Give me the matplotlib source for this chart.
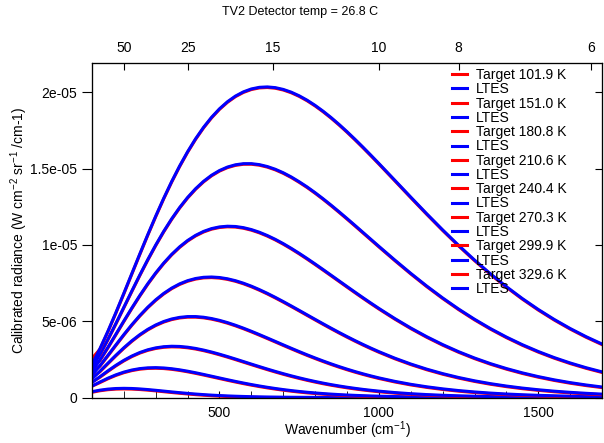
"""Calibrated radiance curves: target vs LTES."""
import matplotlib
matplotlib.use("Agg")
import matplotlib.pyplot as plt
from matplotlib.ticker import FixedLocator, FuncFormatter
from matplotlib.transforms import offset_copy

plt.rcParams["font.family"] = ["Liberation Sans", "DejaVu Sans"]
plt.rcParams["mathtext.fontset"] = "custom"
plt.rcParams["mathtext.rm"] = "Liberation Sans"
plt.rcParams["mathtext.default"] = "regular"

# wavenumber grid (cm-1)
wavenumber = [100, 125, 150, 175, 200, 225, 250, 275, 300, 325, 350, 375, 400, 425, 450, 475,
              500, 525, 550, 575, 600, 625, 650, 675, 700, 725, 750, 775, 800, 825, 850, 875,
              900, 925, 950, 975, 1000, 1050, 1100, 1150, 1200, 1250, 1300, 1350, 1400, 1450,
              1500, 1550, 1600, 1650, 1700]

temps = ["101.9", "151.0", "180.8", "210.6", "240.4", "270.3", "299.9", "329.6"]

# LTES radiance, units of 1e-6 W cm-2 sr-1 /cm-1
ltes_101_9 = [0.384, 0.481, 0.550, 0.589, 0.601, 0.591, 0.562, 0.521, 0.472, 0.420, 0.367, 0.317,
              0.270, 0.227, 0.189, 0.156, 0.128, 0.104, 0.084, 0.068, 0.054, 0.043, 0.034, 0.027,
              0.021, 0.016, 0.013, 0.010, 0.008, 0.006, 0.004, 0.003, 0.003, 0.002, 0.002, 0.001,
              0.001, 0.0, 0.0, 0.0, 0.0, 0.0, 0.0, 0.0, 0.0, 0.0, 0.0, 0.0, 0.0, 0.0, 0.0]
ltes_151_0 = [0.748, 1.016, 1.266, 1.485, 1.665, 1.801, 1.894, 1.944, 1.957, 1.936, 1.886, 1.814,
              1.724, 1.622, 1.512, 1.397, 1.281, 1.166, 1.055, 0.949, 0.849, 0.756, 0.670, 0.591,
              0.519, 0.454, 0.396, 0.344, 0.299, 0.258, 0.222, 0.191, 0.164, 0.140, 0.120, 0.102,
              0.087, 0.062, 0.045, 0.032, 0.022, 0.016, 0.011, 0.008, 0.005, 0.004, 0.002, 0.002,
              0.001, 0.001, 0.001]
ltes_180_8 = [0.979, 1.365, 1.748, 2.110, 2.436, 2.717, 2.949, 3.127, 3.253, 3.329, 3.359, 3.346,
              3.297, 3.216, 3.109, 2.981, 2.838, 2.684, 2.522, 2.356, 2.190, 2.026, 1.865, 1.710,
              1.562, 1.421, 1.289, 1.165, 1.050, 0.943, 0.845, 0.756, 0.674, 0.600, 0.532, 0.472,
              0.417, 0.324, 0.250, 0.192, 0.147, 0.111, 0.084, 0.063, 0.047, 0.035, 0.026, 0.020,
              0.014, 0.011, 0.008]
ltes_210_6 = [1.215, 1.725, 2.250, 2.769, 3.262, 3.716, 4.119, 4.467, 4.754, 4.980, 5.145, 5.251,
              5.303, 5.304, 5.260, 5.175, 5.056, 4.908, 4.736, 4.545, 4.340, 4.124, 3.902, 3.677,
              3.451, 3.228, 3.009, 2.796, 2.591, 2.394, 2.206, 2.027, 1.859, 1.701, 1.553, 1.415,
              1.286, 1.058, 0.864, 0.702, 0.567, 0.455, 0.364, 0.289, 0.229, 0.181, 0.143, 0.112,
              0.087, 0.068, 0.053]
ltes_240_4 = [1.454, 2.090, 2.765, 3.450, 4.125, 4.770, 5.371, 5.918, 6.403, 6.821, 7.169, 7.447,
              7.656, 7.798, 7.877, 7.897, 7.863, 7.780, 7.655, 7.491, 7.295, 7.071, 6.826, 6.563,
              6.287, 6.001, 5.710, 5.416, 5.122, 4.831, 4.545, 4.265, 3.994, 3.731, 3.478, 3.236,
              3.005, 2.577, 2.196, 1.859, 1.566, 1.312, 1.094, 0.908, 0.751, 0.618, 0.508, 0.415,
              0.339, 0.275, 0.223]
ltes_270_3 = [1.695, 2.461, 3.289, 4.149, 5.016, 5.867, 6.685, 7.456, 8.167, 8.811, 9.382, 9.875,
              10.290, 10.626, 10.884, 11.068, 11.179, 11.224, 11.207, 11.131, 11.004, 10.830, 10.615, 10.365,
              10.084, 9.777, 9.450, 9.106, 8.750, 8.386, 8.016, 7.645, 7.274, 6.906, 6.543, 6.187,
              5.839, 5.174, 4.555, 3.986, 3.469, 3.003, 2.588, 2.220, 1.898, 1.615, 1.370, 1.158,
              0.976, 0.821, 0.688]
ltes_299_9 = [1.935, 2.832, 3.815, 4.853, 5.917, 6.982, 8.028, 9.037, 9.995, 10.889, 11.710, 12.452,
              13.111, 13.682, 14.166, 14.563, 14.874, 15.102, 15.250, 15.323, 15.325, 15.261, 15.136, 14.957,
              14.728, 14.454, 14.138, 13.797, 13.422, 13.024, 12.607, 12.174, 11.730, 11.279, 10.822, 10.365,
              9.908, 9.008, 8.137, 7.306, 6.526, 5.799, 5.129, 4.517, 3.962, 3.462, 3.015, 2.616,
              2.264, 1.953, 1.680]
ltes_329_6 = [2.176, 3.205, 4.347, 5.567, 6.834, 8.123, 9.408, 10.670, 11.890, 13.056, 14.153, 15.173,
              16.108, 16.954, 17.705, 18.360, 18.919, 19.382, 19.752, 20.029, 20.220, 20.326, 20.353, 20.306,
              20.189, 20.009, 19.771, 19.481, 19.142, 18.762, 18.346, 17.897, 17.421, 16.923, 16.407, 15.876,
              15.336, 14.236, 13.132, 12.043, 10.986, 9.972, 9.010, 8.106, 7.264, 6.485, 5.770, 5.116,
              4.523, 3.987, 3.505]

# target radiance differs from LTES only at the very low-wavenumber end
target_start = [0.38, 0.78, 1.05, 1.35, 1.70, 2.00, 2.30, 2.60]

ltes_all = [ltes_101_9, ltes_151_0, ltes_180_8, ltes_210_6,
            ltes_240_4, ltes_270_3, ltes_299_9, ltes_329_6]

top_wavelengths = [50, 25, 15, 10, 8, 6]
y_ticks = [0, 5e-6, 1e-5, 1.5e-5, 2e-5]

fig = plt.figure(figsize=(6.04, 4.43), dpi=100)
ax = fig.add_axes([0.1523, 0.1027, 0.8444, 0.7544])

# red drawn a hair lower so a thin fringe shows under the blue
red_trans = offset_copy(ax.transData, fig=fig, x=0, y=-0.6, units="dots")
for t, ltes, t0 in zip(temps, ltes_all, target_start):
    target = [t0] + ltes[1:]
    ax.plot(wavenumber, [v * 1e-6 for v in target], color="red", linewidth=2.2,
            label=f"Target {t} K", transform=red_trans)
    ax.plot(wavenumber, [v * 1e-6 for v in ltes], color="blue", linewidth=2.2, label="LTES")

ax.set_xlim(100, 1700)
ax.set_ylim(0, 2.19e-5)
ax.xaxis.set_major_locator(FixedLocator([500, 1000, 1500]))
ax.xaxis.set_minor_locator(FixedLocator(range(200, 1700, 100)))
ax.yaxis.set_major_locator(FixedLocator(y_ticks))
ax.yaxis.set_major_formatter(FuncFormatter(lambda v, p: "%g" % v))
ax.tick_params(axis="x", which="both", direction="in", top=True, labelsize=10, length=5)
ax.tick_params(axis="x", which="major", pad=6)
ax.tick_params(axis="y", which="major", direction="out", length=7, labelsize=10, right=False)

axr = ax.twinx()
axr.set_ylim(ax.get_ylim())
axr.yaxis.set_major_locator(FixedLocator(y_ticks))
axr.tick_params(axis="y", direction="in", length=5, labelright=False)

ax2 = ax.twiny()
ax2.set_xlim(ax.get_xlim())
ax2.xaxis.set_major_locator(FixedLocator([1e4 / w for w in top_wavelengths]))
ax2.xaxis.set_major_formatter(FuncFormatter(lambda v, p: "%g" % round(1e4 / v)))
ax2.tick_params(axis="x", direction="in", length=5, labelsize=10, pad=6)

ax.set_xlabel("Wavenumber (cm$^{-1}$)", fontsize=10, labelpad=0)
ax.set_ylabel("Calibrated radiance (W cm$^{-2}$ sr$^{-1}$ /cm-1)", fontsize=10, labelpad=0)
fig.text(0.497, 0.972, "TV2 Detector temp = 26.8 C", ha="center", va="center", fontsize=9)

ax.legend(loc="upper left", bbox_to_anchor=(0.706, 0.986), frameon=False, fontsize=10,
          handlelength=1.1, handletextpad=0.6, labelspacing=0.02, borderpad=0, borderaxespad=0)

plt.savefig("out.png", dpi=100)
plt.close()
